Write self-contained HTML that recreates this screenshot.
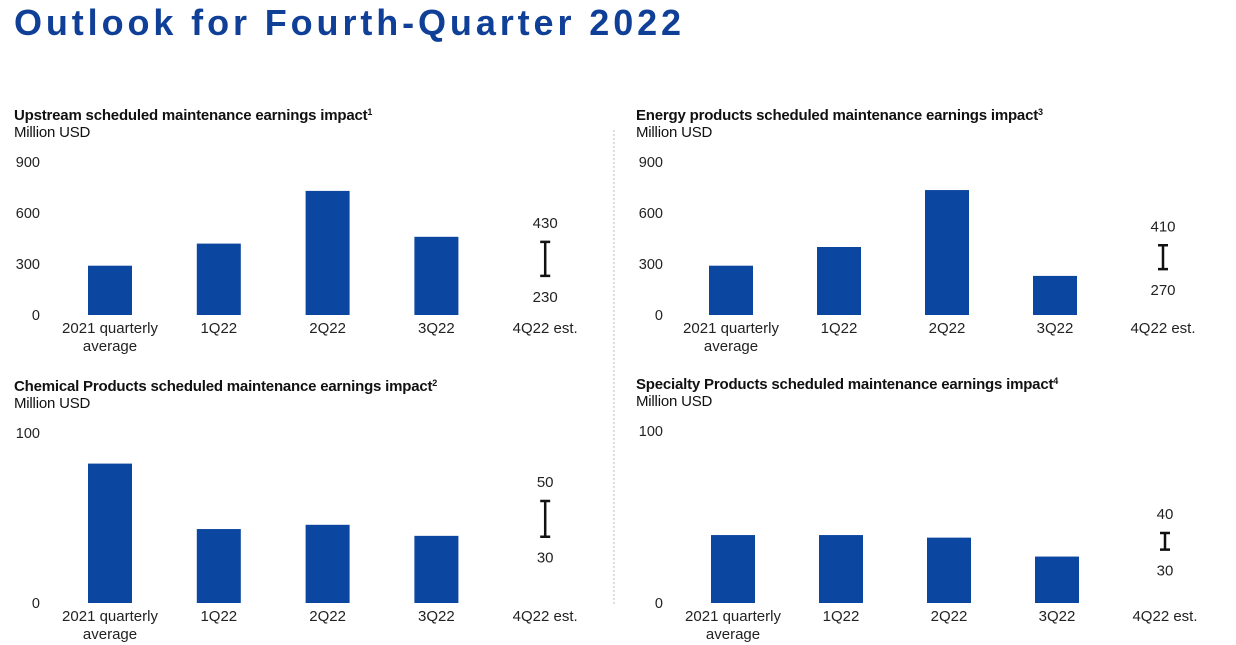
<!DOCTYPE html>
<html><head><meta charset="utf-8"><style>
body{margin:0;width:1236px;height:645px;background:#fff;overflow:hidden;font-family:"Liberation Sans",sans-serif}
#title{position:absolute;left:14px;top:2px;font-size:36px;font-weight:bold;color:#0f3f97;letter-spacing:3.9px;margin:0;white-space:nowrap}
svg{position:absolute;left:0;top:0}
</style></head><body>
<h1 id="title">Outlook for Fourth-Quarter 2022</h1>
<svg id="s" width="1236" height="645">
<line x1="614" y1="130" x2="614" y2="606" stroke="#bbb" stroke-dasharray="2,2"/>
</svg>
<script>
const categories=["2021 quarterly|average","1Q22","2Q22","3Q22","4Q22 est."];
const upstreamValues=[290,420,730,460];
const upstreamRange=[230,430];
const upstreamRangeLabels=["430","230"];
const upstreamTicks=[0,300,600,900];
const energyValues=[290,400,735,230];
const energyRange=[270,410];
const energyRangeLabels=["410","270"];
const energyTicks=[0,300,600,900];
const chemValues=[82,43.5,46,39.5];
const chemRange=[39,60];
const chemRangeLabels=["50","30"];
const chemTicks=[0,100];
const specValues=[39.5,39.5,38,27];
const specRange=[31,40.7];
const specRangeLabels=["40","30"];
const specTicks=[0,100];
const svg=document.getElementById('s');
const NS='http://www.w3.org/2000/svg';
function mk(t,a,txt){const e=document.createElementNS(NS,t);for(const k in a)e.setAttribute(k,a[k]);if(txt!=null)e.textContent=txt;svg.appendChild(e);return e;}
function chart(o){
  const y=v=>o.y0-(v/o.max)*(o.y0-o.yTop);
  const t1=mk('text',{x:o.lx,y:o.ty,'font-size':'15','font-weight':'bold',fill:'#111','letter-spacing':'-0.2'},o.title);
  
  
  const sup=document.createElementNS(NS,'tspan');sup.setAttribute('font-size','9');sup.setAttribute('dy','-5');sup.textContent=o.sup;t1.appendChild(sup);
  const t2=mk('text',{x:o.lx,y:o.ty+17,'font-size':'15',fill:'#111','letter-spacing':'-0.2'},'Million USD');
  
  
  o.ticks.forEach(tv=>{const e=mk('text',{x:o.axX,y:y(tv)+5,'font-size':'14.5','text-anchor':'end',fill:'#222'},String(tv));
    
    });
  categories.forEach((c,i)=>{const cx=o.x0+i*o.step;
    c.split('|').forEach((ln,j)=>{const e=mk('text',{x:cx,y:o.y0+18+j*18,'font-size':'15','text-anchor':'middle',fill:'#222'},ln);
      
      });
    if(i<o.vals.length){const v=o.vals[i];const b=mk('rect',{x:cx-22,y:y(v),width:44,height:o.y0-y(v),fill:'#0b46a0'});
      
      }
    else{const a=y(o.range[1]),b=y(o.range[0]);
      const g=mk('path',{d:`M${cx-5},${a}H${cx+5}M${cx},${a}V${b}M${cx-5},${b}H${cx+5}`,stroke:'#111','stroke-width':'2.5',fill:'none'});
      
      
      const l1=mk('text',{x:cx,y:a-14,'font-size':'15','text-anchor':'middle',fill:'#222'},o.rl[0]);
      
      
      const l2=mk('text',{x:cx,y:b+26,'font-size':'15','text-anchor':'middle',fill:'#222'},o.rl[1]);
      
      }
  });
}
chart({name:'upstream',title:'Upstream scheduled maintenance earnings impact',sup:'1',lx:14,ty:120,axX:40,y0:315,yTop:162,max:900,ticks:upstreamTicks,x0:110,step:108.8,vals:upstreamValues,range:upstreamRange,rl:upstreamRangeLabels});
chart({name:'energy',title:'Energy products scheduled maintenance earnings impact',sup:'3',lx:636,ty:120,axX:663,y0:315,yTop:162,max:900,ticks:energyTicks,x0:731,step:108,vals:energyValues,range:energyRange,rl:energyRangeLabels});
chart({name:'chemical',title:'Chemical Products scheduled maintenance earnings impact',sup:'2',lx:14,ty:391,axX:40,y0:603,yTop:433,max:100,ticks:chemTicks,x0:110,step:108.8,vals:chemValues,range:chemRange,rl:chemRangeLabels});
chart({name:'specialty',title:'Specialty Products scheduled maintenance earnings impact',sup:'4',lx:636,ty:389,axX:663,y0:603,yTop:431,max:100,ticks:specTicks,x0:733,step:108,vals:specValues,range:specRange,rl:specRangeLabels});
</script>
</body></html>
